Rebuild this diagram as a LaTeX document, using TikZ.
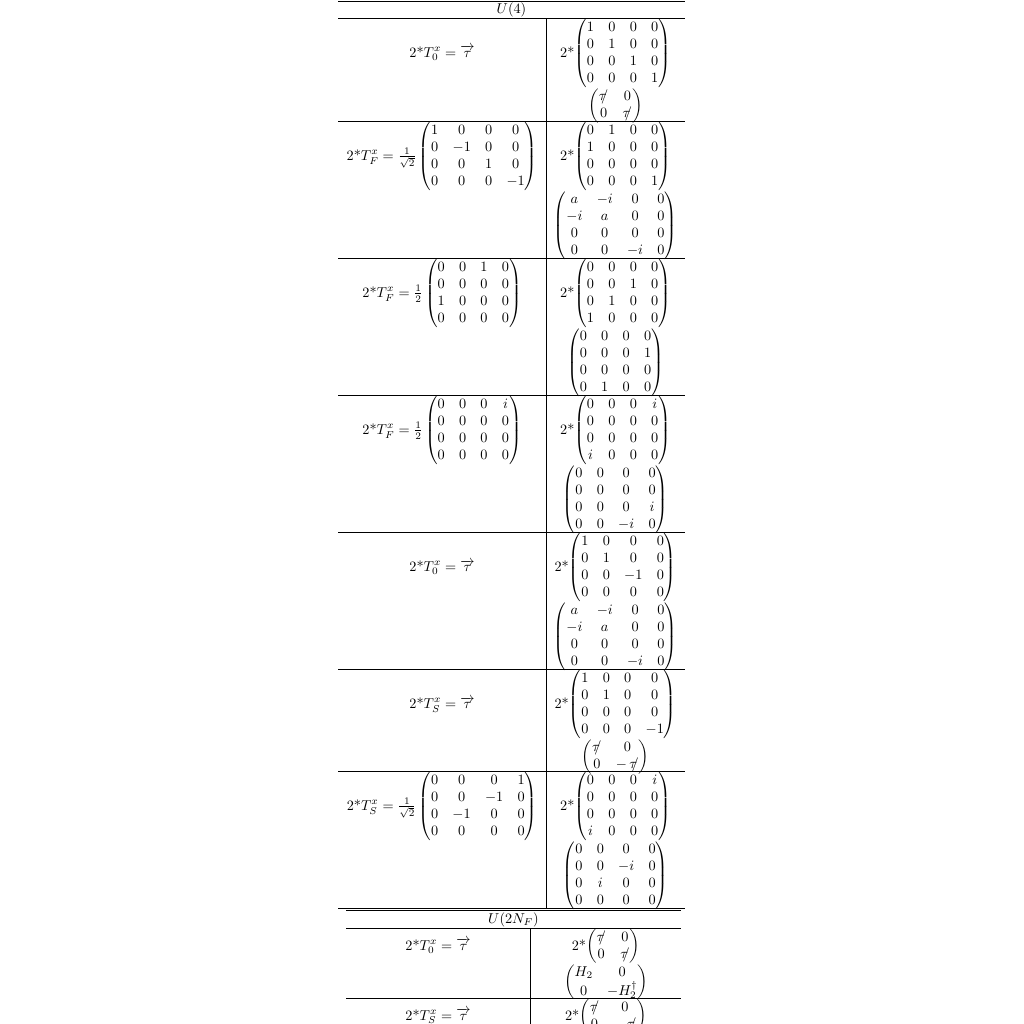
\documentclass[tikz,border=0pt]{standalone}
\usepackage{amsmath}
\newcommand{\slt}{{\tau\mkern-7mu/}}
\newcommand{\vt}{\overrightarrow{\tau}}
\newcommand{\tw}{2*}
\begin{document}
\begin{tikzpicture}[x=0.7pt,y=-0.7pt,
  hrule/.style={line width=0.65pt},
  cellr/.style={inner sep=0pt, anchor=north},
  celll/.style={inner sep=0pt, anchor=base},
  hdr/.style={inner sep=0pt}]
\useasboundingbox (0,0) rectangle (1024,1024);
\coordinate (cL) at (442,0);
\coordinate (cR) at (615.5,0);
\coordinate (dL) at (438,0);
\coordinate (dR) at (606,0);
% ---------- table 1 rules ----------
\foreach \yy in {1,18,121,258,395,532,669,771,908}
  \draw[hrule] (338,\yy) -- (685,\yy);
\draw[hrule] (546,18) -- (546,908);
\node[hdr] (h1) at (511.5,9.5) {$U(4)$};
% row 1
\node[cellr] (r1a) at (615.5,19) {\tw$\begin{pmatrix}1&0&0&0\\0&1&0&0\\0&0&1&0\\0&0&0&1\end{pmatrix}$};
\node[cellr] (r1b) at (r1a.south -| cR) {$\begin{pmatrix}\slt&0\\0&\slt\end{pmatrix}$};
\node[celll] (l1) at (r1a.base -| cL) {\tw$T_0^x = \vt$};
% row 2
\node[cellr] (r2a) at (615.5,122) {\tw$\begin{pmatrix}0&1&0&0\\1&0&0&0\\0&0&0&0\\0&0&0&1\end{pmatrix}$};
\node[cellr] (r2b) at (r2a.south -| cR) {$\begin{pmatrix}a&-i&0&0\\-i&a&0&0\\0&0&0&0\\0&0&-i&0\end{pmatrix}$};
\node[celll] (l2) at (r2a.base -| cL) {\tw$T_F^x = \frac{1}{\sqrt{2}}\begin{pmatrix}1&0&0&0\\0&-1&0&0\\0&0&1&0\\0&0&0&-1\end{pmatrix}$};
% row 3
\node[cellr] (r3a) at (615.5,259) {\tw$\begin{pmatrix}0&0&0&0\\0&0&1&0\\0&1&0&0\\1&0&0&0\end{pmatrix}$};
\node[cellr] (r3b) at (r3a.south -| cR) {$\begin{pmatrix}0&0&0&0\\0&0&0&1\\0&0&0&0\\0&1&0&0\end{pmatrix}$};
\node[celll] (l3) at (r3a.base -| cL) {\tw$T_F^x = \frac{1}{2}\begin{pmatrix}0&0&1&0\\0&0&0&0\\1&0&0&0\\0&0&0&0\end{pmatrix}$};
% row 4
\node[cellr] (r4a) at (615.5,396) {\tw$\begin{pmatrix}0&0&0&i\\0&0&0&0\\0&0&0&0\\i&0&0&0\end{pmatrix}$};
\node[cellr] (r4b) at (r4a.south -| cR) {$\begin{pmatrix}0&0&0&0\\0&0&0&0\\0&0&0&i\\0&0&-i&0\end{pmatrix}$};
\node[celll] (l4) at (r4a.base -| cL) {\tw$T_F^x = \frac{1}{2}\begin{pmatrix}0&0&0&i\\0&0&0&0\\0&0&0&0\\0&0&0&0\end{pmatrix}$};
% row 5
\node[cellr] (r5a) at (615.5,533) {\tw$\begin{pmatrix}1&0&0&0\\0&1&0&0\\0&0&-1&0\\0&0&0&0\end{pmatrix}$};
\node[cellr] (r5b) at (r5a.south -| cR) {$\begin{pmatrix}a&-i&0&0\\-i&a&0&0\\0&0&0&0\\0&0&-i&0\end{pmatrix}$};
\node[celll] (l5) at (r5a.base -| cL) {\tw$T_0^x = \vt$};
% row 6
\node[cellr] (r6a) at (615.5,670) {\tw$\begin{pmatrix}1&0&0&0\\0&1&0&0\\0&0&0&0\\0&0&0&-1\end{pmatrix}$};
\node[cellr] (r6b) at (r6a.south -| cR) {$\begin{pmatrix}\slt&0\\0&-\,\slt\end{pmatrix}$};
\node[celll] (l6) at (r6a.base -| cL) {\tw$T_S^x = \vt$};
% row 7
\node[cellr] (r7a) at (615.5,772) {\tw$\begin{pmatrix}0&0&0&i\\0&0&0&0\\0&0&0&0\\i&0&0&0\end{pmatrix}$};
\node[cellr] (r7b) at (r7a.south -| cR) {$\begin{pmatrix}0&0&0&0\\0&0&-i&0\\0&i&0&0\\0&0&0&0\end{pmatrix}$};
\node[celll] (l7) at (r7a.base -| cL) {\tw$T_S^x = \frac{1}{\sqrt{2}}\begin{pmatrix}0&0&0&1\\0&0&-1&0\\0&-1&0&0\\0&0&0&0\end{pmatrix}$};
% ---------- table 2 ----------
\foreach \yy in {910.7,928,998}
  \draw[hrule] (346,\yy) -- (681,\yy);
\draw[hrule] (530.7,928) -- (530.7,1024);
\node[hdr] (h2) at (513.5,919.5) {$U(2N_F)$};
\node[cellr] (s1a) at (606,929) {\tw$\begin{pmatrix}\slt&0\\0&\slt\end{pmatrix}$};
\node[cellr] (s1b) at (s1a.south -| dR) {$\begin{pmatrix}H_2&0\\0&-H_2^\dagger\end{pmatrix}$};
\node[celll] (m1) at (s1a.base -| dL) {\tw$T_0^x = \vt$};
\node[cellr] (s2a) at (606,999) {\tw$\begin{pmatrix}\slt&0\\0&-\,\slt\end{pmatrix}$};
\node[celll] (m2) at (s2a.base -| dL) {\tw$T_S^x = \vt$};
\end{tikzpicture}
\end{document}
